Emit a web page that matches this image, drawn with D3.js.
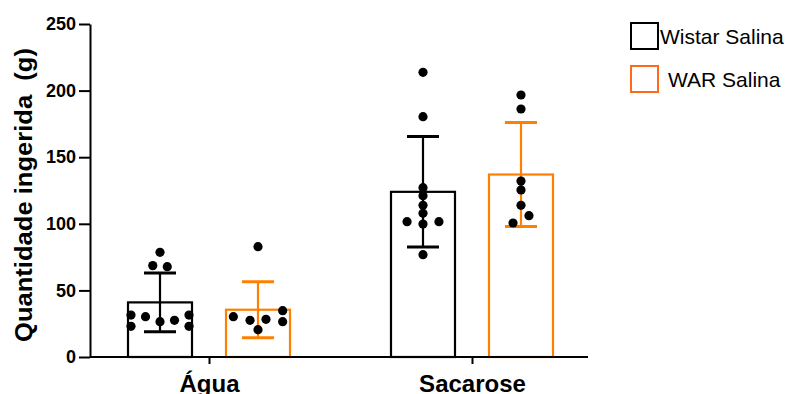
<!DOCTYPE html>
<html>
<head>
<meta charset="utf-8">
<script src="https://cdn.jsdelivr.net/npm/d3@7"></script>
<style>
  body { margin: 0; background: #fff; }
  text { font-family: "Liberation Sans", Arial, sans-serif; }
</style>
</head>
<body>
<svg id="chart" width="792" height="394"></svg>
<script>
// groups on the x axis and the two series
var groups = ["Água", "Sacarose"];
var series = ["Wistar Salina", "WAR Salina"];
var colors = ["#000000", "#ff8000"];

// bar heights (mean) and error bars (SD), one value per group
var wistarMean = [41, 124];
var warMean = [35.5, 137];
var wistarSD = [22, 41.5];
var warSD = [21, 39];

// individual animals
var wistarAgua = [78.6, 68.6, 67.8, 31.5, 23, 30.3, 26.5, 27.5, 31.5, 23];
var wistarAguaJit = [0, -0.5, 0.5, -2, -2, -1, 0, 1, 2, 2];
var warAgua = [82.8, 30.3, 27.5, 28.3, 34.8, 26.5, 20.5];
var warAguaJit = [0, -1.7, -0.55, 0.55, 1.7, 1.7, 0];
var wistarSac = [213.7, 180.4, 127.1, 121.1, 113.9, 107.9, 101.6, 99.8, 101.6, 76.8];
var wistarSacJit = [0, 0, 0, 0, 0, 0, -1.1, 0, 1.1, 0];
var warSac = [196.7, 186.2, 132.1, 125.4, 113.9, 106.1, 100.6];
var warSacJit = [0, 0, 0, 0, 0, 0.55, -0.55];

var yTicks = [0, 50, 100, 150, 200, 250];

var svg = d3.select("#chart");
var mLeft = 90, mRight = 588, mTop = 24, mBottom = 357;

var x = d3.scalePoint().domain(groups).range([mLeft, 591]).padding(0.4525);
var xSub = d3.scalePoint().domain(series).range([-49, 49]);
var y = d3.scaleLinear().domain([0, 250]).range([mBottom, mTop]);
var jit = d3.scaleLinear().domain([-1, 1]).range([-14.5, 14.5]);
var barW = 64;

var bars = [];
groups.forEach(function(g, i) {
  bars.push({g: g, s: series[0], mean: wistarMean[i], sd: wistarSD[i], c: colors[0]});
  bars.push({g: g, s: series[1], mean: warMean[i], sd: warSD[i], c: colors[1]});
});

var pts = [];
function addPts(g, s, vals, jits) {
  vals.forEach(function(v, i) { pts.push({g: g, s: s, v: v, j: jits[i]}); });
}
addPts("Água", series[0], wistarAgua, wistarAguaJit);
addPts("Água", series[1], warAgua, warAguaJit);
addPts("Sacarose", series[0], wistarSac, wistarSacJit);
addPts("Sacarose", series[1], warSac, warSacJit);

function cx(d) { return x(d.g) + xSub(d.s); }

// bars (open)
svg.selectAll(".bar").data(bars).enter().append("rect")
  .attr("class", "bar")
  .attr("x", function(d) { return cx(d) - barW / 2; })
  .attr("y", function(d) { return y(d.mean); })
  .attr("width", barW)
  .attr("height", function(d) { return mBottom - y(d.mean); })
  .attr("fill", "none")
  .attr("stroke", function(d) { return d.c; })
  .attr("stroke-width", 2.2);

// error bars
var eb = svg.selectAll(".eb").data(bars).enter().append("g")
  .attr("stroke", function(d) { return d.c; })
  .attr("stroke-width", 2.2);
eb.append("line")
  .attr("x1", cx).attr("x2", cx)
  .attr("y1", function(d) { return y(d.mean + d.sd); })
  .attr("y2", function(d) { return y(d.mean - d.sd); });
eb.append("line")
  .attr("x1", function(d) { return cx(d) - barW / 4; })
  .attr("x2", function(d) { return cx(d) + barW / 4; })
  .attr("y1", function(d) { return y(d.mean + d.sd); })
  .attr("y2", function(d) { return y(d.mean + d.sd); })
  .attr("stroke-width", 3);
eb.append("line")
  .attr("x1", function(d) { return cx(d) - barW / 4; })
  .attr("x2", function(d) { return cx(d) + barW / 4; })
  .attr("y1", function(d) { return y(d.mean - d.sd); })
  .attr("y2", function(d) { return y(d.mean - d.sd); })
  .attr("stroke-width", 3);

// dots
svg.selectAll(".dot").data(pts).enter().append("circle")
  .attr("cx", function(d) { return cx(d) + jit(d.j); })
  .attr("cy", function(d) { return y(d.v); })
  .attr("r", 4.6)
  .attr("fill", "#000");

// y axis
var yAxis = svg.append("g")
  .attr("transform", "translate(" + mLeft + ",0)")
  .call(d3.axisLeft(y).tickValues(yTicks).tickSize(11).tickSizeOuter(0).tickPadding(3));
yAxis.selectAll("path, line").attr("stroke", "#000").attr("stroke-width", 2);
yAxis.selectAll("text").attr("font-size", 18).attr("font-weight", "bold")
  .attr("fill", "#000").style("font-family", "Liberation Sans, Arial, sans-serif");

// x axis
var xAxis = svg.append("g")
  .attr("transform", "translate(0," + mBottom + ")")
  .call(d3.axisBottom(x).tickSize(7).tickSizeOuter(0).tickPadding(11));
xAxis.select(".domain").attr("d", "M" + mLeft + ",0H" + mRight);
xAxis.selectAll("path, line").attr("stroke", "#000").attr("stroke-width", 2);
xAxis.selectAll("text").attr("font-size", 24).attr("font-weight", "bold")
  .attr("fill", "#000").style("font-family", "Liberation Sans, Arial, sans-serif");

// y title
svg.append("text")
  .attr("transform", "translate(32," + 195 + ") rotate(-90)")
  .attr("text-anchor", "middle")
  .attr("font-size", 23)
  .attr("font-weight", "bold")
  .attr("textLength", 294)
  .attr("lengthAdjust", "spacingAndGlyphs")
  .style("white-space", "pre")
  .text("Quantidade ingerida  (g)");

// legend
var leg = svg.selectAll(".leg").data(series).enter().append("g")
  .attr("transform", function(d, i) { return "translate(631," + (23 + i * 43) + ")"; });
leg.append("rect")
  .attr("width", 27).attr("height", 26)
  .attr("fill", "none")
  .attr("stroke", function(d, i) { return i === 0 ? colors[0] : "#ff6a1a"; })
  .attr("stroke-width", 2);
leg.append("text")
  .attr("x", function(d, i) { return i === 0 ? 29 : 37; })
  .attr("y", 21)
  .attr("font-size", 21)
  .text(function(d) { return d; });
</script>
</body>
</html>
